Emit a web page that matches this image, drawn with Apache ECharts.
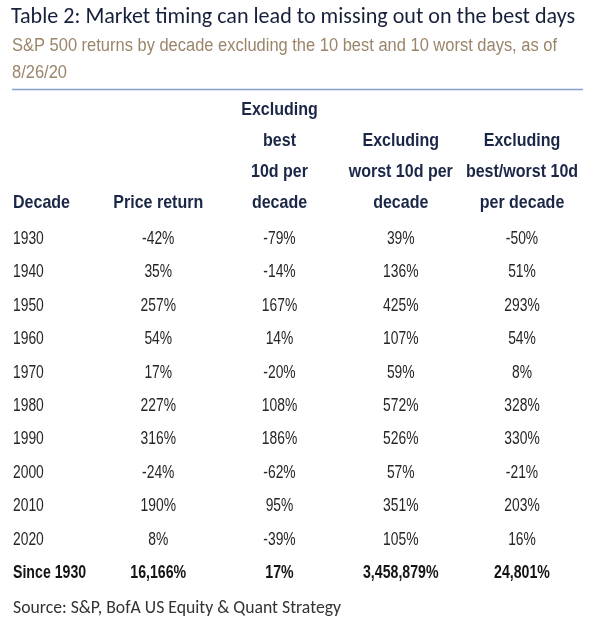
<!DOCTYPE html>
<html><head><meta charset="utf-8">
<script src="https://cdn.jsdelivr.net/npm/echarts@6/dist/echarts.min.js"></script>
<style>html,body{margin:0;padding:0;background:#fff}#c{width:590px;height:624px}</style>
</head><body><div id="c"></div>
<script>
const decades = ['1930','1940','1950','1960','1970','1980','1990','2000','2010','2020','Since 1930'];
const priceReturn = [-42,35,257,54,17,227,316,-24,190,8,16166];
const exBest = [-79,-14,167,14,-20,108,186,-62,95,-39,17];
const exWorst = [39,136,425,107,59,572,526,57,351,105,3458879];
const exBoth = [-50,51,293,54,8,328,330,-21,203,16,24801];
const headers = ['Decade','Price return','Excluding\nbest\n10d per\ndecade','Excluding\nworst 10d per\ndecade','Excluding\nbest/worst 10d\nper decade'];
const titleText = 'Table 2: Market timing can lead to missing out on the best days';
const subLines = ['S&P 500 returns by decade excluding the 10 best and 10 worst days, as of', '8/26/20'];
const sourceText = 'Source: S&P, BofA US Equity & Quant Strategy';

const rows = ['header'].concat(decades);
const cols = [decades, priceReturn, exBest, exWorst, exBoth];
const fmt = v => typeof v === 'number' ? v.toLocaleString('en-US') + '%' : v;
const ARIAL = '"Liberation Sans", Arial, sans-serif';
const CAL = 'Carlito, Calibri, Lato, sans-serif';

const cv = document.createElement('canvas').getContext('2d');
function fitSize(text, family, target) {
  cv.font = '100px ' + family;
  return Math.round(100 * target / cv.measureText(text).width * 10) / 10;
}
function fitScale(text, font, target) {
  cv.font = font;
  return target / cv.measureText(text).width;
}
const titleSize = fitSize(titleText, CAL, 565);
const srcSize = fitSize(sourceText, CAL, 329);
const subFont = '18px ' + ARIAL;
const subScale = fitScale(subLines[0], subFont, 545);

const headerData = headers.map((h, i) => {
  const lines = h.split('\n');
  while (lines.length < 4) lines.unshift('');
  return [i, 'header', lines.join('\n')];
});
const bodyData = [], totalData = [];
cols.forEach((arr, c) => arr.forEach((v, r) => {
  const item = [c, decades[r], fmt(v)];
  if (r === decades.length - 1) totalData.push(item); else bodyData.push(item);
}));

function textSeries(data, o) {
  return {
    type: 'custom', coordinateSystem: 'cartesian2d', silent: true, animation: false,
    encode: { x: 0, y: 1 },
    data: data,
    renderItem: (params, api) => {
      const d = data[params.dataIndex];
      const p = api.coord([api.value(0), api.value(1)]);
      const left = d[0] === 0;
      return {
        type: 'text', x: p[0] + (left ? -24 : 0), y: p[1] + o.offY,
        scaleX: o.sx,
        style: {
          text: d[2], fill: o.color,
          font: o.weight + ' ' + o.size + 'px ' + ARIAL,
          align: left ? 'left' : 'center', verticalAlign: 'middle',
          lineHeight: o.lh
        }
      };
    }
  };
}

const chart = echarts.init(document.getElementById('c'), null, {renderer: 'canvas'});
chart.setOption({
  backgroundColor: '#fff',
  animation: false,
  graphic: [
    { type: 'text', x: 11, y: 17, style: { text: titleText, fill: '#16203a', font: 'normal ' + titleSize + 'px ' + CAL, verticalAlign: 'middle' } },
    { type: 'text', x: 12, y: 46, scaleX: subScale, style: { text: subLines[0], fill: '#9a856a', font: subFont, verticalAlign: 'middle' } },
    { type: 'text', x: 12, y: 73, scaleX: subScale, style: { text: subLines[1], fill: '#9a856a', font: subFont, verticalAlign: 'middle' } },
    { type: 'line', shape: { x1: 12, y1: 89.5, x2: 583, y2: 89.5 }, style: { stroke: '#86a2cf', lineWidth: 1.5 } },
    { type: 'text', x: 13, y: 609, style: { text: sourceText, fill: '#333333', font: 'normal ' + srcSize + 'px ' + CAL, verticalAlign: 'middle' } }
  ],
  grid: { left: 37, right: 68, top: 188.9, bottom: 34.1 },
  xAxis: { type: 'value', min: 0, max: 4, show: false },
  yAxis: { type: 'category', data: rows, inverse: true, show: false },
  series: [
    textSeries(headerData, { color: '#1b2747', weight: 'bold', size: 18.5, sx: 0.866, lh: 31.1, offY: -48.9 }),
    textSeries(bodyData, { color: '#262626', weight: 'normal', size: 18, sx: 0.77, lh: 20, offY: 0 }),
    textSeries(totalData, { color: '#141414', weight: 'bold', size: 18.5, sx: 0.765, lh: 20, offY: 0 })
  ]
});
</script></body></html>
